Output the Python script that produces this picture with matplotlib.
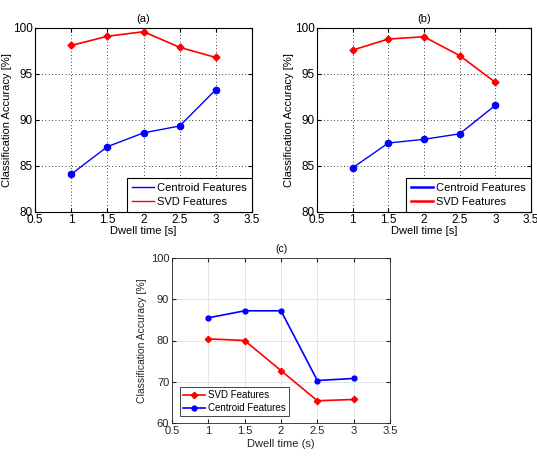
import matplotlib
matplotlib.use("Agg")
import matplotlib.pyplot as plt

plt.rcParams['font.family'] = ['Liberation Sans', 'DejaVu Sans']

dwell = [1, 1.5, 2, 2.5, 3]
xticks = [0.5, 1, 1.5, 2, 2.5, 3, 3.5]
xtick_labels = ['0.5', '1', '1.5', '2', '2.5', '3', '3.5']

a_svd = [98.1, 99.1, 99.6, 97.9, 96.8]
a_centroid = [84.1, 87.1, 88.6, 89.35, 93.3]

b_svd = [97.6, 98.8, 99.05, 97.0, 94.1]
b_centroid = [84.8, 87.5, 87.9, 88.5, 91.6]

c_svd = [80.4, 80.0, 72.7, 65.4, 65.7]
c_centroid = [85.5, 87.2, 87.2, 70.3, 70.8]

W, H = 537, 472
fig = plt.figure(figsize=(W / 100, H / 100), dpi=100)


def px_axes(left, top, right, bottom):
    return fig.add_axes([left / W, 1 - bottom / H, (right - left) / W, (bottom - top) / H])


def old_style(ax, svd, cen, title, lw_leg):
    ax.plot(dwell, cen, color='blue', lw=1.0, marker='o', ms=4.5, label='Centroid Features')
    ax.plot(dwell, svd, color='red', lw=1.2, marker='D', ms=3.5, label='SVD Features')
    ax.set_xlim(0.5, 3.5)
    ax.set_ylim(80, 100)
    ax.set_xticks(xticks)
    ax.set_xticklabels(xtick_labels)
    ax.set_yticks([80, 85, 90, 95, 100])
    ax.grid(True, color='black', linestyle=(0, (1, 3)), linewidth=0.6)
    ax.tick_params(direction='in', top=True, right=True, labelsize=8.5, length=3, pad=1.5)
    for s in ax.spines.values():
        s.set_color('black')
        s.set_linewidth(0.8)
    ax.set_xlabel('Dwell time [s]', fontsize=8, labelpad=0)
    ax.set_ylabel('Classification Accuracy [%]', fontsize=8, labelpad=1)
    ax.set_title(title, fontsize=8, pad=4)
    leg = ax.legend(loc='lower right', borderaxespad=0, fancybox=False,
                    edgecolor='black', framealpha=1, fontsize=8,
                    handlelength=2.0, handletextpad=0.3, borderpad=0.45,
                    labelspacing=0.4)
    for h in leg.get_lines():
        h.set_marker('')
        h.set_linewidth(lw_leg)
    leg.get_frame().set_linewidth(0.8)


ax_a = px_axes(35, 28, 252, 212)
old_style(ax_a, a_svd, a_centroid, '(a)', 1.0)

ax_b = px_axes(317, 28, 531, 212)
old_style(ax_b, b_svd, b_centroid, '(b)', 1.8)

ax_c = px_axes(172, 258, 390, 423)
ax_c.plot(dwell, c_svd, color='red', lw=1.2, marker='D', ms=3.2, label='SVD Features')
ax_c.plot(dwell, c_centroid, color='blue', lw=1.2, marker='o', ms=3.5, label='Centroid Features')
ax_c.set_xlim(0.5, 3.5)
ax_c.set_ylim(60, 100)
ax_c.set_xticks(xticks)
ax_c.set_xticklabels(xtick_labels)
ax_c.set_yticks([60, 70, 80, 90, 100])
ax_c.grid(True, color='#e0e0e0', linewidth=0.6)
ax_c.set_axisbelow(True)
ax_c.tick_params(direction='in', top=True, right=True, labelsize=8,
                 colors='#262626', length=3, pad=2)
for s in ax_c.spines.values():
    s.set_color('#262626')
    s.set_linewidth(0.6)
ax_c.set_xlabel('Dwell time (s)', fontsize=8, color='#262626', labelpad=2)
ax_c.set_ylabel('Classification Accuracy [%]', fontsize=7.5, color='#262626', labelpad=3)
ax_c.set_title('(c)', fontsize=7.5, pad=4)
leg_c = ax_c.legend(loc='lower left', bbox_to_anchor=(0.035, 0.04), borderaxespad=0,
                    fancybox=False, edgecolor='#262626', framealpha=1, fontsize=7,
                    handlelength=2.3, handletextpad=0.3, borderpad=0.35, labelspacing=0.3)
leg_c.get_frame().set_linewidth(0.6)

fig.savefig('out.png', dpi=100)
